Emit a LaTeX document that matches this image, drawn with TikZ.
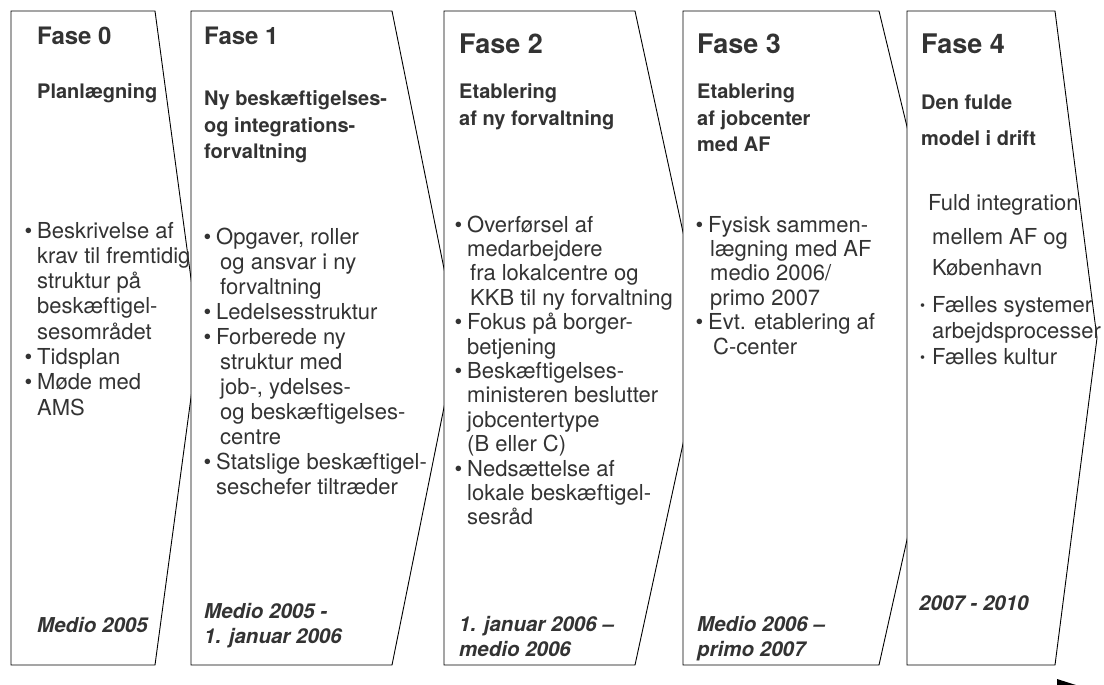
\documentclass[tikz,border=0pt]{standalone}
\usepackage{fontspec}
\usepackage{graphicx}
\setmainfont{TeX Gyre Heros}
\definecolor{txtc}{HTML}{333333}
\newcommand\bul{\llap{\textbullet\hspace{5pt}}}
\newcommand\sbul{\llap{\raisebox{1.5pt}{\scalebox{0.65}{\textbullet}}\hspace{7pt}}}
\newcommand\tlines[6]{\foreach \tl [count=\i] in {#6}{\node[#1] (#2\i) at (#3,{#4+(\i-1)*#5}) {\tl};}}
\begin{document}
\begin{tikzpicture}[x=1pt,y=-1pt,
  phase/.style={draw=black, line width=0.9pt, fill=white, line join=miter},
  ttl/.style={font=\fontsize{24}{24}\selectfont\bfseries, text=txtc, anchor=base west, inner sep=0pt},
  ttlb/.style={font=\fontsize{27}{27}\selectfont\bfseries, text=txtc, anchor=base west, inner sep=0pt},
  subh/.style={font=\fontsize{20}{20}\selectfont\bfseries, text=txtc, anchor=base west, inner sep=0pt},
  body/.style={font=\fontsize{22}{22}\selectfont, text=txtc, anchor=base west, inner sep=0pt},
  datel/.style={font=\fontsize{20.5}{20.5}\selectfont\bfseries\itshape, text=txtc, anchor=base west, inner sep=0pt}]
\useasboundingbox[fill=white] (0,0) rectangle (1104,685);

% Fase 0
\path[phase] (11,11) -- (155,11) -- (199,338) -- (155,665) -- (11,665) -- cycle;
\node[ttl] (t0) at (37,45) {Fase 0};
\node[subh] (s0) at (37,99) {Planlægning};
\tlines{body}{b0-}{37}{238}{25.3}{{\bul Beskrivelse af},{krav til fremtidig},{struktur på},{beskæftigel-},{sesområdet},{\bul Tidsplan},{\bul Møde med},{AMS}}
\node[datel] (d0) at (37,632) {Medio 2005};

% Fase 1
\path[phase] (191,11) -- (392,11) -- (458,338) -- (392,665) -- (191,665) -- cycle;
\node[ttl] (t1) at (204,45) {Fase 1};
\tlines{subh}{s1-}{204}{106}{26}{{Ny beskæftigelses-},{og integrations-},{forvaltning}}
\tlines{body}{b1-}{216}{244}{25}{{\bul Opgaver, roller},{\hspace*{4pt}og ansvar i ny},{\hspace*{4pt}forvaltning},{\bul Ledelsesstruktur},{\bul Forberede ny},{\hspace*{4pt}struktur med},{\hspace*{4pt}job-, ydelses-},{\hspace*{4pt}og beskæftigelses-},{\hspace*{4pt}centre},{\bul Statslige beskæftigel-},{seschefer tiltræder}}
\tlines{datel}{d1-}{204}{618}{25}{{Medio 2005 -},{1. januar 2006}}

% Fase 2
\path[phase] (444,11) -- (635,11) -- (706,338) -- (635,665) -- (444,665) -- cycle;
\node[ttlb] (t2) at (459,54) {Fase 2};
\tlines{subh}{s2-}{459}{99}{26}{{Etablering},{af ny forvaltning}}
\tlines{body}{b2-}{467}{232}{24.4}{{\bul Overførsel af},{medarbejdere},{\hspace*{3pt}fra lokalcentre og},{\hspace*{3pt}KKB til ny forvaltning},{\bul Fokus på borger-},{betjening},{\bul Beskæftigelses-},{ministeren beslutter},{jobcentertype},{(B eller C)},{\bul Nedsættelse af},{lokale beskæftigel-},{sesråd}}
\tlines{datel}{d2-}{459}{631}{25}{{1. januar 2006 –},{medio 2006}}

% Fase 3
\path[phase] (683,11) -- (879,11) -- (955,325) -- (879,665) -- (683,665) -- cycle;
\node[ttlb] (t3) at (697,54) {Fase 3};
\tlines{subh}{s3-}{697}{99}{26}{{Etablering},{af jobcenter},{med AF}}
\tlines{body}{b3-}{708}{232}{24.4}{{\bul Fysisk sammen-},{\hspace*{2pt}lægning med AF},{\hspace*{2pt}medio 2006/},{\hspace*{2pt}primo 2007},{\bul Evt. etablering af},{\hspace*{5pt}C-center}}
\tlines{datel}{d3-}{697}{631}{25}{{Medio 2006 –},{primo 2007}}

% Fase 4
\path[phase] (907,11) -- (1055,11) -- (1097,338) -- (1055,665) -- (907,665) -- cycle;
\node[ttlb] (t4) at (921,54) {Fase 4};
\node[subh] (s4a) at (921,110) {Den fulde};
\node[subh] (s4b) at (921,146) {model i drift};
\node[body] (b4a) at (928,210) {Fuld integration};
\node[body] (b4b) at (932,244) {mellem AF og};
\node[body] (b4c) at (932,275) {København};
\node[body] (b4d) at (932,312) {\sbul Fælles systemer};
\node[body] (b4e) at (932,338) {arbejdsprocesser};
\node[body] (b4f) at (932,364) {\sbul Fælles kultur};
\node[datel] (d4) at (919,610) {2007 - 2010};

% arrow tip at bottom right
\fill[black] (1057,679) -- (1079,686) -- (1057,693) -- cycle;
\end{tikzpicture}
\end{document}
